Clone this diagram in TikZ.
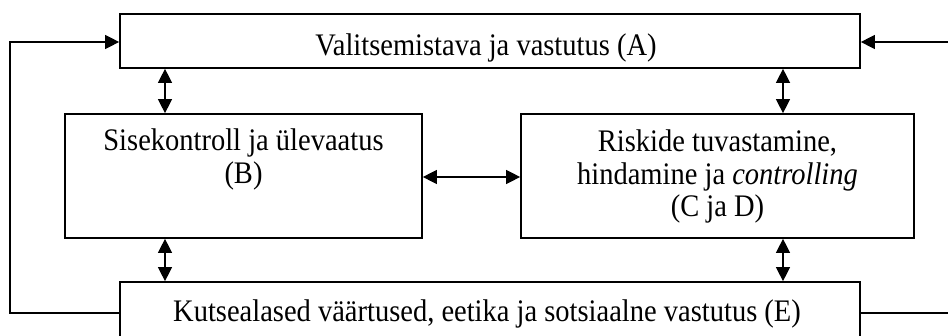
\documentclass[tikz,border=0pt]{standalone}
\usepackage{fontspec}
\usepackage{graphicx}
\setmainfont{Liberation Serif}
\usetikzlibrary{arrows.meta}
\newcommand\stretchtext[1]{\scalebox{1}[1.1]{\begin{tabular}[t]{@{}c@{}}#1\end{tabular}}}
\begin{document}
\begin{tikzpicture}[x=1pt,y=-1pt,
  box/.style={draw, line width=1.7pt, inner sep=0pt, rectangle},
  txt/.style={font=\fontsize{28.5}{29.5}\selectfont, inner sep=0pt, anchor=base},
  conn/.style={line width=1.3pt},
  tip/.style={conn, -{Triangle[length=14pt,width=14pt]}},
  dbl/.style={conn, {Triangle[length=14pt,width=14pt]}-{Triangle[length=14pt,width=14pt]}}]
\useasboundingbox (0,0) rectangle (948,336);
\clip (0,0) rectangle (948,336);
% boxes
\node[box, minimum width=740pt, minimum height=54pt] (A) at (490,41) {};
\node[box, minimum width=357pt, minimum height=124pt] (B) at (243.5,176) {};
\node[box, minimum width=393pt, minimum height=124pt] (CD) at (717.5,176) {};
\node[box, minimum width=740pt, minimum height=64pt] (E) at (490,314) {};
% texts
\node[txt] (tA) at (486,56) {\stretchtext{Valitsemistava ja vastutus (A)}};
\node[txt] (tB) at (243.5,151) {\stretchtext{Sisekontroll ja ülevaatus\\(B)}};
\node[txt] (tCD) at (717.5,152) {\stretchtext{Riskide tuvastamine,\\hindamine ja \textit{controlling}\\(C ja D)}};
\node[txt] (tE) at (487,322) {\stretchtext{Kutsealased väärtused, eetika ja sotsiaalne vastutus (E)}};
% helper coordinates
\coordinate (xl) at (165,0);
\coordinate (xr) at (783,0);
\coordinate (yh) at (0,177);
\coordinate (L1) at (10,313);
\coordinate (L2) at (10,42);
\coordinate (R1) at (958,313);
\coordinate (R2) at (958,42);
% connectors
\draw[dbl] (A.south -| xl) -- (B.north -| xl);
\draw[dbl] (A.south -| xr) -- (CD.north -| xr);
\draw[dbl] (B.south -| xl) -- (E.north -| xl);
\draw[dbl] (CD.south -| xr) -- (E.north -| xr);
\draw[dbl] (B.east |- yh) -- (CD.west |- yh);
\draw[tip] (E.west |- L1) -- (L1) -- (L2) -- (A.west |- L2);
\draw[tip] (E.east |- R1) -- (R1) -- (R2) -- (A.east |- R2);
\end{tikzpicture}
\end{document}
